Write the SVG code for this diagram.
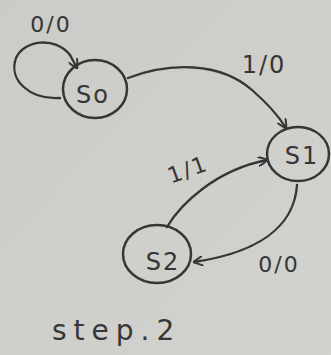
<svg xmlns="http://www.w3.org/2000/svg" width="331" height="355" viewBox="0 0 331 355">
<style>
.st{fill:none;stroke:#363636;stroke-width:2.5}
.lb{font-family:"DejaVu Sans",sans-serif;fill:#363636;font-size:22px;letter-spacing:2px}
.nl{font-size:24px}
.ed{fill:none;stroke:#363636;stroke-width:2.3;stroke-linecap:round}
</style>
<defs>
<marker id="ar" viewBox="0 0 10 10" refX="9" refY="5" markerWidth="10" markerHeight="10" orient="auto-start-reverse" markerUnits="userSpaceOnUse">
<path d="M0,0 L10,5 L0,10" fill="none" stroke="#363636" stroke-width="2"/>
</marker>
<linearGradient id="bg" x1="0" y1="0" x2="1" y2="1">
<stop offset="0" stop-color="#cbcbc7"/>
<stop offset="1" stop-color="#d2d2cf"/>
</linearGradient>
</defs>
<rect width="331" height="355" fill="url(#bg)"/>
<g id="connectors">
<path class="ed" d="M60,98 C30,100 8,80 16,58 C24,40 55,36 70,55 L77,68" marker-end="url(#ar)"/>
<path class="ed" d="M128,78 C170,62 220,62 252,90 C268,104 278,115 286,128" marker-end="url(#ar)"/>
<path class="ed" d="M167,227 C180,205 215,170 267,160" marker-end="url(#ar)"/>
<path class="ed" d="M297,185 C295,215 275,250 194,262" marker-end="url(#ar)"/>
</g>
<g id="S0"><ellipse class="st" cx="95" cy="89" rx="32" ry="29"/><text class="lb nl" x="93" y="103" text-anchor="middle">So</text></g>
<g id="S1"><ellipse class="st" cx="298" cy="154" rx="31" ry="27"/><text class="lb nl" x="302" y="164" text-anchor="middle">S1</text></g>
<g id="S2"><ellipse class="st" cx="157" cy="254" rx="34" ry="29"/><text class="lb nl" x="163" y="270" text-anchor="middle">S2</text></g>
<g id="labels">
<text class="lb" x="51" y="32" text-anchor="middle">0/0</text>
<text class="lb nl" x="264" y="73" text-anchor="middle">1/0</text>
<text class="lb" x="188" y="177" text-anchor="middle" transform="rotate(-20 188 170)">1/1</text>
<text class="lb" x="279" y="272" text-anchor="middle">0/0</text>
<text class="lb" x="52" y="340" style="font-size:28px;letter-spacing:7px">step.2</text>
</g>
</svg>
